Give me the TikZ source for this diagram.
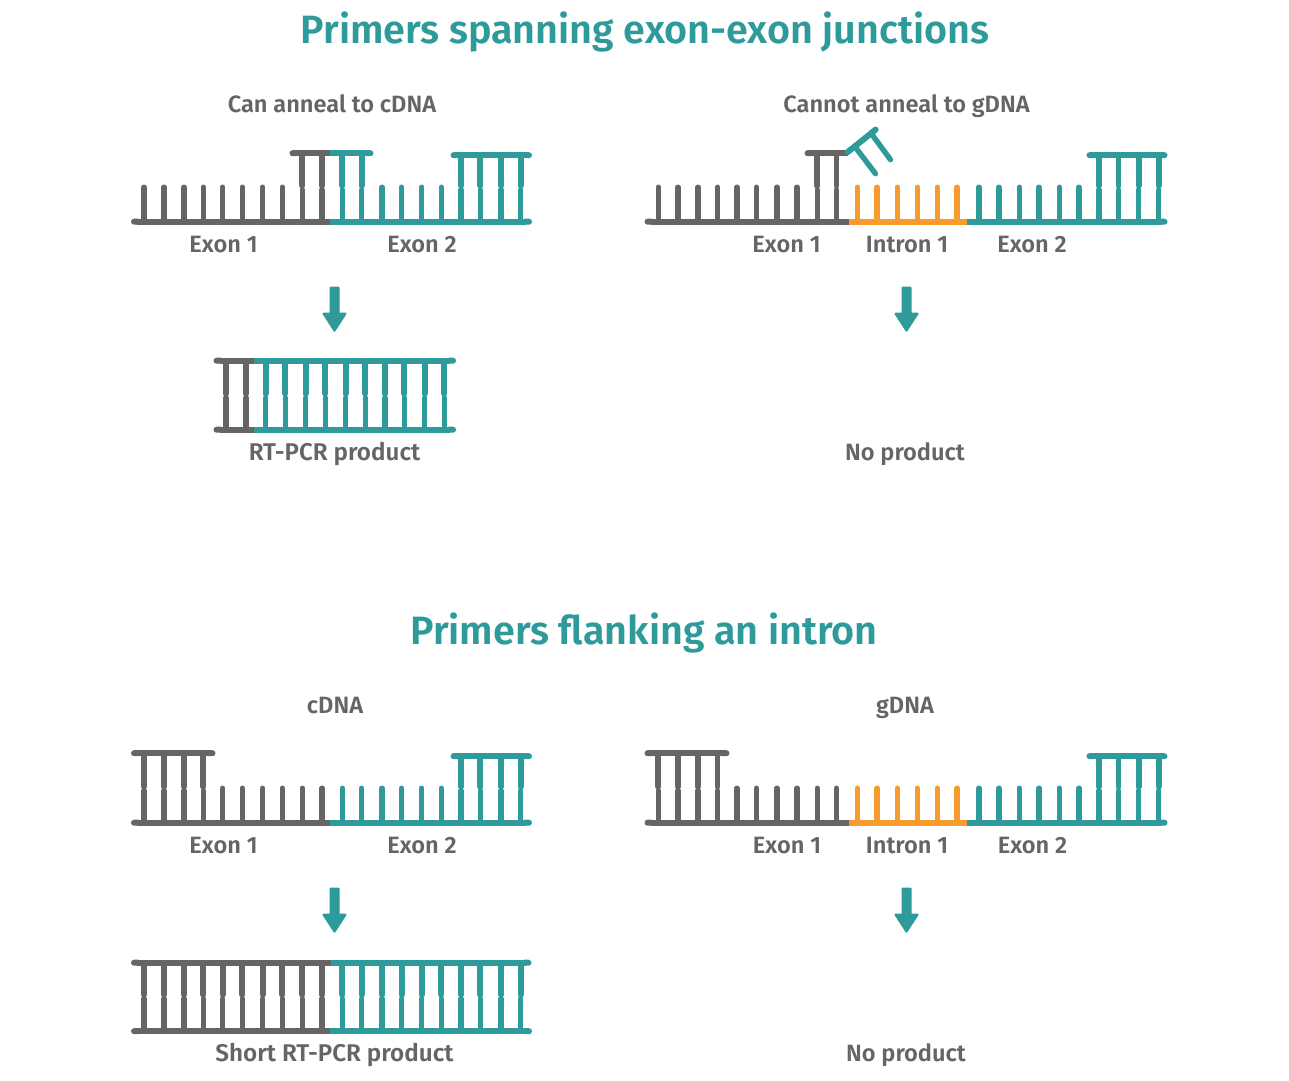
\documentclass[tikz,border=0pt]{standalone}
\usepackage{fontspec}
\setmainfont{Fira Sans}[BoldFont={Fira Sans SemiBold}]
\usetikzlibrary{arrows.meta}
\definecolor{dgray}{HTML}{666565}
\definecolor{dteal}{HTML}{2E9A9A}
\definecolor{dorange}{HTML}{F89B2E}
\tikzset{
  x=1pt,y=-1pt,
  toothline/.style={line width=5.4pt,line cap=round},
  bb/.style={line width=6pt,line cap=butt},
  bbl/.style={bb,{Round Cap[]}-},
  bbr/.style={bb,-{Round Cap[]}},
  bbb/.style={bb,{Round Cap[]}-{Round Cap[]}},
  title/.style={anchor=base,text=dteal,font=\fontsize{39.5}{40}\selectfont\bfseries},
  lab/.style={anchor=base,text=dgray,font=\fontsize{23.6}{24}\selectfont\bfseries},
  labw/.style={anchor=base,text=dgray,font=\fontsize{24.2}{24}\selectfont\bfseries},
  pcrarrow/.style={fill=dteal,draw=dteal,line width=2pt,line join=round}
}
% colour, backbone y, x list : unpaired teeth
\newcommand{\freeteeth}[3]{\foreach \x in {#3}{\draw[toothline,#1] (\x,#2) -- (\x,#2-34.5);}}
% colour, bottom y, top y, junction y, x list : paired teeth
\newcommand{\pairteeth}[5]{\foreach \x in {#5}{
  \draw[toothline,#1] (\x,#2) -- (\x,#4+2);
  \draw[toothline,line width=5.8pt,#1] (\x,#3) -- (\x,#4-2);}}
\newcommand{\pcrarr}[2]{\draw[pcrarrow] (#1-4,#2+1) -- (#1+4,#2+1) -- (#1+4,#2+27) -- (#1+11,#2+27) -- (#1,#2+44) -- (#1-11,#2+27) -- (#1-4,#2+27) -- cycle;}
\begin{document}
\begin{tikzpicture}
\useasboundingbox (0,0) rectangle (1289,1080);
% ===== titles and labels =====
\node[title] (t1) at (645,43) {Primers spanning exon-exon junctions};
\node[title] (t2) at (644,644) {Primers flanking an intron};
\node[lab] (a1) at (332,112) {Can anneal to cDNA};
\node[lab] (a2) at (906.5,112) {Cannot anneal to gDNA};
\node[lab] (e1) at (223.5,252) {Exon 1};
\node[lab] (e2) at (422,252) {Exon 2};
\node[lab] (e3) at (786.5,252) {Exon 1};
\node[lab] (i1) at (907,252) {Intron 1};
\node[lab] (e4) at (1032,252) {Exon 2};
\node[labw] (p1) at (334.5,460) {RT-PCR product};
\node[lab] (n1) at (905,460) {No product};
\node[lab] (a3) at (335,713) {cDNA};
\node[lab] (a4) at (905,713) {gDNA};
\node[lab] (e5) at (223.5,853) {Exon 1};
\node[lab] (e6) at (422,853) {Exon 2};
\node[lab] (e7) at (787,853) {Exon 1};
\node[lab] (i2) at (907,853) {Intron 1};
\node[lab] (e8) at (1032.5,853) {Exon 2};
\node[labw] (p2) at (334.5,1061) {Short RT-PCR product};
\node[lab] (n2) at (906,1061) {No product};
\begin{scope}[yshift=-0.7pt]
% ===== arrows =====
\pcrarr{334.5}{286}
\pcrarr{906.5}{286}
\pcrarr{334.5}{887}
\pcrarr{906.5}{887}
% ===== top left: cDNA, junction primer =====
\freeteeth{dgray}{221}{144,164,184,203.3,222.7,242.3,262.7,282.3}
\freeteeth{dteal}{221}{382,401.7,421.7,441.3}
\pairteeth{dgray}{221}{152.5}{187}{302.3,322}
\pairteeth{dteal}{221}{152.5}{187}{342.3,361.7}
\pairteeth{dteal}{221}{154.5}{187}{461,480.3,501,520.7}
\draw[bbl,dgray] (131,221) -- (330,221);
\draw[bbr,dteal] (330,221) -- (532,221);
\draw[bbl,dgray] (289.5,152.5) -- (330,152.5);
\draw[bbr,dteal] (330,152.5) -- (373.5,152.5);
\draw[bbb,dteal] (450.5,154.5) -- (532,154.5);
% ===== top right: gDNA, junction primer =====
\freeteeth{dgray}{221}{658.3,678,698,717.5,736.9,756.6,777,797}
\freeteeth{dorange}{221}{857.3,877,897.4,917.2,937.2,957}
\freeteeth{dteal}{221}{979,998.8,1019.2,1039,1059.4,1079}
\pairteeth{dgray}{221}{152.5}{187}{817.2,836.5}
\pairteeth{dteal}{221}{154.5}{187}{1098.8,1118.5,1138.6,1158.7}
\draw[bbl,dgray] (644.5,221) -- (848.5,221);
\draw[bb,dorange] (848.5,221) -- (967,221);
\draw[bbr,dteal] (967,221) -- (1167.5,221);
\draw[bbl,dgray] (804.5,152.5) -- (847.5,152.5);
\draw[bbb,dteal] (1086.5,154.5) -- (1167.5,154.5);
\draw[bbb,dteal] (845,153.5) -- (878,127);
\draw[toothline,dteal] (856.5,148) -- (875.5,173);
\draw[toothline,dteal] (872.5,134.5) -- (890.5,159);
% ===== RT-PCR product =====
\pairteeth{dgray}{429}{360}{395}{226,246}
\pairteeth{dteal}{429}{360}{395}{265.7,285.3,305.7,325.3,345.7,365.3,385,404.3,424.7,444.3}
\draw[bbl,dgray] (213.5,360) -- (254,360);
\draw[bbr,dteal] (254,360) -- (456,360);
\draw[bbl,dgray] (213.5,429) -- (254,429);
\draw[bbr,dteal] (254,429) -- (456,429);
% ===== bottom left: cDNA, flanking primers =====
\pairteeth{dgray}{822}{752.5}{788}{144,164,184,203.3}
\freeteeth{dgray}{822}{222.7,242.3,262.7,282.3,302.3,322}
\freeteeth{dteal}{822}{342.3,361.7,382,401.7,421.7,441.3}
\pairteeth{dteal}{822}{755.5}{788}{461,480.3,501,520.7}
\draw[bbl,dgray] (131,822) -- (330,822);
\draw[bbr,dteal] (330,822) -- (532,822);
\draw[bbb,dgray] (131,752.5) -- (215.5,752.5);
\draw[bbb,dteal] (450.5,755.5) -- (532,755.5);
% ===== bottom right: gDNA, flanking primers =====
\pairteeth{dgray}{822}{752.5}{788}{658.3,678,698,717.5}
\freeteeth{dgray}{822}{736.9,756.6,777,797,817.2,836.5}
\freeteeth{dorange}{822}{857.3,877,897.4,917.2,937.2,957}
\freeteeth{dteal}{822}{979,998.8,1019.2,1039,1059.4,1079}
\pairteeth{dteal}{822}{755.5}{788}{1098.8,1118.5,1138.6,1158.7}
\draw[bbl,dgray] (644.5,822) -- (848.5,822);
\draw[bb,dorange] (848.5,822) -- (967,822);
\draw[bbr,dteal] (967,822) -- (1167.5,822);
\draw[bbb,dgray] (644.5,752.5) -- (729.5,752.5);
\draw[bbb,dteal] (1086.5,755.5) -- (1167.5,755.5);
% ===== Short RT-PCR product =====
\pairteeth{dgray}{1030.5}{962}{996}{144,164,184,203.3,222.7,242.3,262.7,282.3,302.3,322}
\pairteeth{dteal}{1030.5}{962}{996}{342.3,361.7,382,401.7,421.7,441.3,461,480.3,501,520.7}
\draw[bbl,dgray] (131,962) -- (331,962);
\draw[bbr,dteal] (331,962) -- (531.5,962);
\draw[bbl,dgray] (131,1030.5) -- (330,1030.5);
\draw[bbr,dteal] (330,1030.5) -- (532,1030.5);
\end{scope}
\end{tikzpicture}
\end{document}
